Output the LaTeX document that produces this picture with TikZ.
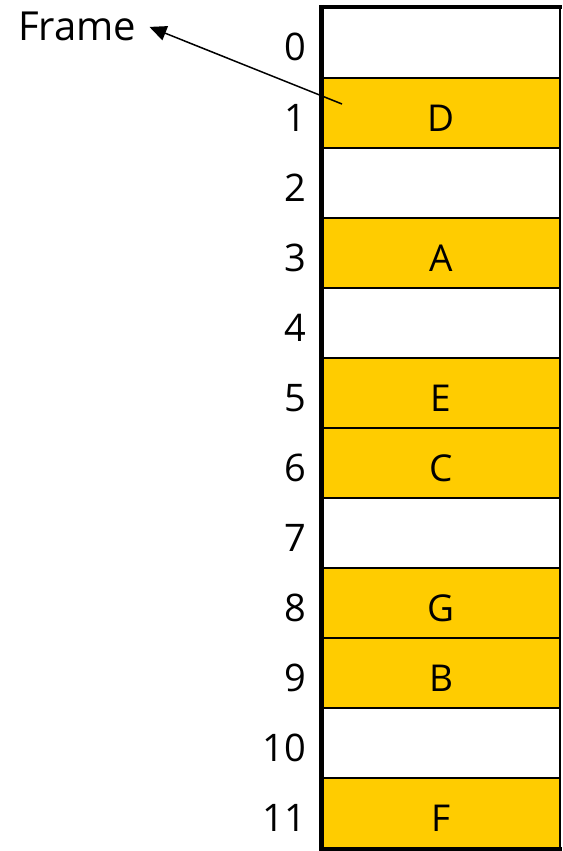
\documentclass[tikz,border=0pt]{standalone}
\usepackage{fontspec}
\setmainfont{Open Sans}
\usetikzlibrary{positioning,arrows.meta,calc}
\definecolor{slotfill}{HTML}{FFCC00}

\begin{document}
\begin{tikzpicture}[
    x=1pt, y=-1pt,
    cell/.style={draw=black, line width=2pt, minimum width=238pt, minimum height=70pt, inner sep=0pt, anchor=north west, font=\fontsize{37}{40}\selectfont, text height=36pt, text depth=0pt},
    used/.style={cell, fill=slotfill},
    idx/.style={inner sep=0pt, font=\fontsize{38}{40}\selectfont, text height=36pt, text depth=0pt},
    arr/.style={-{Triangle[length=17pt,width=15pt]}, line width=1.5pt}
]
    \useasboundingbox (0,0) rectangle (562,851);

    % frames 0..11, empty ones have no letter
    \foreach \i/\page in {0/,1/D,2/,3/A,4/,5/E,6/C,7/,8/G,9/B,10/,11/F} {
        \ifx\page\empty
            \node[cell] (cell\i) at (321,{7+70*\i}) {};
        \else
            \node[used] (cell\i) at (321,{7+70*\i}) {\page};
        \fi
        \node[idx, left=15pt of cell\i.west, anchor=east] (idx\i) {\i};
    }

    % heavy outline on the left, top and bottom
    \draw[line width=5pt] ([yshift=2pt]cell0.north west) -- ([yshift=-2pt]cell11.south west);
    \draw[line width=4pt] (cell0.north west) -- ([xshift=1pt]cell0.north east);
    \draw[line width=4pt] (cell11.south west) -- ([xshift=1pt]cell11.south east);

    \node[font=\fontsize{40}{42}\selectfont, inner xsep=13pt, inner ysep=0pt, anchor=base west] (frame) at (5,41) {Frame};
    \coordinate (ptr) at ($(cell1.north west)+(21,27)$);
    \draw[arr] (ptr) -- (frame.east);
\end{tikzpicture}
\end{document}
